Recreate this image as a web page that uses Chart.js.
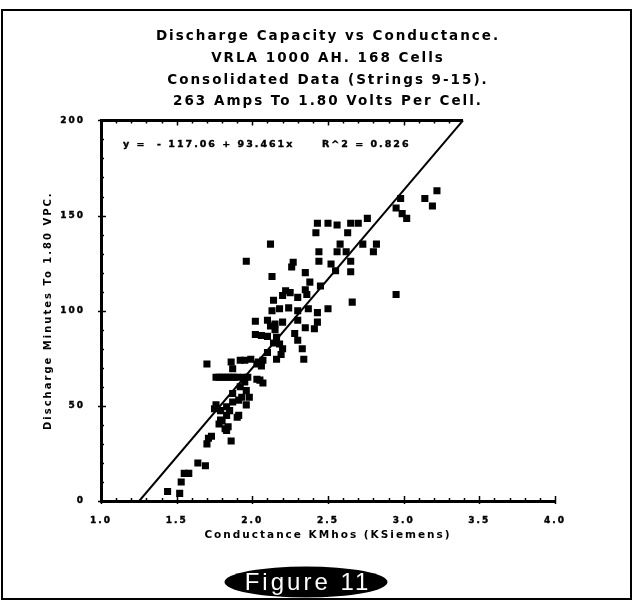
<!DOCTYPE html>
<html lang="en">
<head>
<meta charset="UTF-8">
<title>Discharge Capacity vs Conductance</title>
<script src="https://cdn.jsdelivr.net/npm/chart.js"></script>
<style>
  body { margin: 0; background: #fff; }
  canvas { display: block; }
</style>
</head>
<body>
<canvas id="chart" width="637" height="603"></canvas>
<script>
// Cell readings, strings 9-15 (conductance in KMhos, minutes to 1.80 VPC)
const conductance = [
  3.22, 3.14, 3.19, 2.98, 2.95, 2.99, 3.02, 2.95,
  2.43, 2.50, 2.56, 2.65, 2.70, 2.76, 2.42, 2.63,
  2.12, 2.58, 2.73, 2.82, 2.80, 2.44, 2.56, 2.62, 2.65, 1.96, 2.27, 2.26,
  2.44, 2.52, 2.55, 2.35, 2.65, 2.13, 2.38, 2.45, 2.22, 2.66, 2.50, 2.35,
  2.14, 2.20, 2.25, 2.30, 2.36, 2.13, 2.18, 2.24, 2.30, 2.37, 2.43, 2.43, 2.41,
  2.02, 2.10, 2.15, 2.20, 2.30, 2.35, 2.12, 2.02, 2.06, 2.10, 2.16, 2.28, 2.30, 2.15,
  2.18, 2.20, 2.33, 2.10, 2.14, 2.19, 2.16, 2.34, 2.07, 2.04, 1.95,
  1.70, 1.86, 1.92, 1.99, 2.03, 2.06, 1.87,
  1.76, 1.78, 1.80, 1.82, 1.84, 1.86, 1.88, 1.90, 1.94, 1.97,
  2.03, 2.05, 2.07, 1.95, 1.92, 1.96, 1.87, 1.93, 1.98, 1.96, 1.91, 1.87,
  1.76, 1.75, 1.79, 1.83, 1.85, 1.91, 1.90, 1.83, 1.79, 1.80, 1.78, 1.84, 1.82, 1.83,
  1.73, 1.71, 1.70, 1.86, 1.64, 1.69, 1.55, 1.58, 1.53, 1.44, 1.52
];
const minutes = [
  163, 159, 155, 159, 154, 151, 148.5, 108.5,
  146, 146, 145, 146, 146, 148.5, 141, 141,
  135, 135, 135, 135, 131, 131, 131, 131, 126, 126, 125.5, 123,
  126, 124.5, 121, 120, 120.5, 118, 115, 113, 110.5, 104.5, 101, 111,
  105.5, 108, 109.5, 107, 108.5, 100, 101, 101.5, 100, 101, 99, 94, 90.5,
  94.5, 95, 93, 94, 95, 91, 92, 87.5, 87, 86.5, 86, 88, 84.5, 90,
  82.5, 80, 80, 78, 83, 77, 74.5, 74.5, 74, 73, 74,
  72, 73, 74, 74.5, 72, 71, 69.5,
  65, 65, 65, 65, 65, 65, 65, 65, 65, 65,
  64, 63.5, 62, 62.5, 60, 58, 56.5, 54.5, 54.5, 50.5, 53, 52,
  50.5, 48.5, 47.5, 49.5, 47.5, 45, 44, 45, 42.5, 42, 40.5, 39, 38, 37,
  34, 33, 30, 31.5, 20, 18.5, 14.5, 14.5, 10, 5, 4
];

// least squares fit printed on the plot
const fitIntercept = -117.06;
const fitSlope = 93.461;
const fitR2 = 0.826;

const xTicks = [1.0, 1.5, 2.0, 2.5, 3.0, 3.5, 4.0];
const yTicks = [0, 50, 100, 150, 200];
const xMinorStep = 0.1;
const yMinorStep = 10;

const titleLines = [
  'Discharge Capacity vs Conductance.',
  'VRLA 1000 AH. 168 Cells',
  'Consolidated Data (Strings 9-15).',
  '263 Amps To 1.80 Volts Per Cell.'
];
const xTitle = 'Conductance KMhos (KSiemens)';
const yTitle = 'Discharge Minutes To 1.80 VPC.';
const figureLabel = 'Figure 11';

const xMin = xTicks[0], xMax = xTicks[xTicks.length - 1];
const yMin = yTicks[0], yMax = yTicks[yTicks.length - 1];

const points = conductance.map((c, i) => ({ x: c, y: minutes[i] }));
// fit line from the bottom edge to the top edge of the plot
const fitLine = [yMin, yMax].map(v => ({ x: (v - fitIntercept) / fitSlope, y: v }));

const FONT = 'DejaVu Sans';

const decor = {
  id: 'decor',
  beforeDraw(chart) {
    chart.ctx.letterSpacing = '2px';
  },
  afterDraw(chart) {
    const { ctx, chartArea: a, scales: { x, y } } = chart;
    ctx.save();
    ctx.strokeStyle = '#000';
    ctx.fillStyle = '#000';

    // top edge runs from the y axis to where the fit line leaves the plot
    const topEnd = x.getPixelForValue(fitLine[1].x);
    ctx.lineWidth = 3;
    ctx.beginPath();
    ctx.moveTo(a.left, a.top);
    ctx.lineTo(topEnd, a.top);
    ctx.stroke();

    // minor / major ticks along bottom, top and left
    ctx.lineWidth = 1.5;
    const nx = Math.round((xMax - xMin) / xMinorStep);
    for (let i = 0; i <= nx; i++) {
      const v = xMin + i * xMinorStep;
      const px = Math.round(x.getPixelForValue(v)) + 0.5;
      const major = i % 5 === 0;
      const len = major ? 5 : 3;
      ctx.beginPath();
      ctx.moveTo(px, a.bottom - len);
      ctx.lineTo(px, a.bottom + (major ? 3 : 0));
      if (px < topEnd) {
        ctx.moveTo(px, a.top);
        ctx.lineTo(px, a.top + len);
      }
      ctx.stroke();
    }
    const ny = Math.round((yMax - yMin) / yMinorStep);
    for (let i = 0; i <= ny; i++) {
      const v = yMin + i * yMinorStep;
      const py = Math.round(y.getPixelForValue(v)) + 0.5;
      const major = i % 5 === 0;
      ctx.beginPath();
      ctx.moveTo(a.left - (major ? 3 : 0), py);
      ctx.lineTo(a.left + (major ? 5 : 3), py);
      ctx.stroke();
    }

    // fit equation
    ctx.font = 'bold 9.5px "' + FONT + '"';
    ctx.textBaseline = 'middle';
    ctx.textAlign = 'left';
    ctx.lineWidth = 0.4;
    const eq = 'y =  - ' + Math.abs(fitIntercept).toFixed(2) + ' + ' + fitSlope + 'x';
    const r2 = 'R^2 = ' + fitR2.toFixed(3);
    ctx.fillText(eq, a.left + 22, a.top + 24);
    ctx.strokeText(eq, a.left + 22, a.top + 24);
    ctx.fillText(r2, a.left + 221, a.top + 24);
    ctx.strokeText(r2, a.left + 221, a.top + 24);

    // figure badge
    const cx = 306, cy = 582, w = 163, h = 31;
    ctx.beginPath();
    ctx.ellipse(cx, cy, w / 2, h / 2, 0, 0, Math.PI * 2);
    ctx.fill();
    ctx.fillStyle = '#fff';
    ctx.letterSpacing = '3px';
    ctx.font = '24px "Liberation Sans"';
    ctx.textAlign = 'center';
    ctx.fillText(figureLabel, cx + 2, cy + 1);

    // outer frame
    ctx.strokeStyle = '#000';
    ctx.lineWidth = 2;
    ctx.strokeRect(2, 10, 629, 589);
    ctx.restore();
  }
};

new Chart(document.getElementById('chart'), {
  data: {
    datasets: [
      {
        type: 'scatter',
        data: points,
        pointStyle: 'rect',
        pointRadius: 5,
        backgroundColor: '#000',
        borderWidth: 0
      },
      {
        type: 'line',
        data: fitLine,
        borderColor: '#000',
        borderWidth: 2,
        pointRadius: 0,
        fill: false
      }
    ]
  },
  options: {
    responsive: false,
    animation: false,
    devicePixelRatio: 1,
    layout: { padding: { left: 0, top: 0, right: 82, bottom: 0 } },
    plugins: {
      legend: { display: false },
      tooltip: { enabled: false },
      title: {
        display: true,
        fullSize: false,
        text: titleLines,
        color: '#000',
        font: { family: FONT, size: 13.5, weight: 'bold', lineHeight: 1.6 },
        padding: { top: 26, bottom: 8 }
      }
    },
    scales: {
      x: {
        type: 'linear',
        min: xMin,
        max: xMax,
        afterBuildTicks: s => { s.ticks = xTicks.map(v => ({ value: v })); },
        afterFit: s => { s.height = 102; },
        grid: { display: false },
        border: { display: true, color: '#000', width: 3 },
        ticks: {
          color: '#000',
          padding: 6,
          textStrokeColor: '#000',
          textStrokeWidth: 0.4,
          font: { family: FONT, size: 9, weight: 'bold' },
          callback: v => Number(v).toFixed(1)
        },
        title: {
          display: true,
          text: xTitle,
          color: '#000',
          font: { family: FONT, size: 10.5, weight: 'bold' },
          padding: { top: 0, bottom: 61 }
        }
      },
      y: {
        type: 'linear',
        min: yMin,
        max: yMax,
        afterBuildTicks: s => { s.ticks = yTicks.map(v => ({ value: v })); },
        afterFit: s => { s.width = 101; },
        grid: { display: false },
        border: { display: true, color: '#000', width: 3 },
        ticks: {
          color: '#000',
          padding: 8,
          textStrokeColor: '#000',
          textStrokeWidth: 0.4,
          font: { family: FONT, size: 9, weight: 'bold' }
        },
        title: {
          display: true,
          text: yTitle,
          color: '#000',
          font: { family: FONT, size: 10, weight: 'bold' },
          padding: { top: 42, bottom: 0 }
        }
      }
    }
  },
  plugins: [decor]
});
</script>
</body>
</html>
